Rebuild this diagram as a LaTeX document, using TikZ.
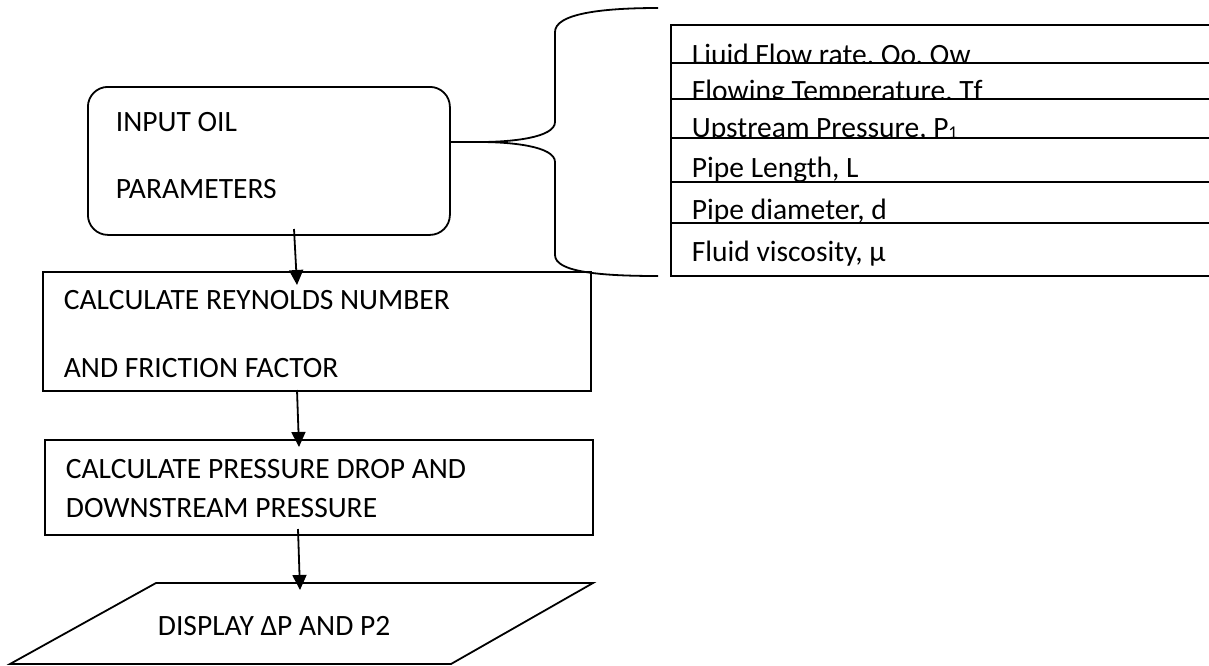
\documentclass[tikz,border=0pt]{standalone}
\usepackage{fontspec}
\setmainfont{Carlito}
\usetikzlibrary{arrows.meta}
\begin{document}
\begin{tikzpicture}[x=1pt,y=-1pt,
  line width=1.8pt,
  every node/.style={inner sep=0pt},
  txt/.style={anchor=base west, font=\fontsize{29.5}{35}\selectfont},
  box/.style={draw, anchor=north west},
  flow/.style={-{Triangle[length=15pt,width=14pt]}},
  row/.style={draw, fill=white}]
\clip (0,0) rectangle (1209,665);
\fill[white] (0,0) rectangle (1209,665);

% input box
\node[box, rounded corners=20pt, minimum width=362pt, minimum height=148pt] (inp) at (87,86) {};
\node[txt] (tin1) at (115,131) {INPUT OIL};
\node[txt] (tin2) at (115,198) {PARAMETERS};

% box 2
\node[box, minimum width=548pt, minimum height=119pt] (rey) at (42,271) {};
\node[txt] (tr1) at (63,309) {CALCULATE REYNOLDS NUMBER};
\node[txt] (tr2) at (63,377) {AND FRICTION FACTOR};

% box 3
\node[box, minimum width=548pt, minimum height=95pt] (pd) at (44,439) {};
\node[txt] (tp1) at (65,478) {CALCULATE PRESSURE DROP AND};
\node[txt] (tp2) at (65,517) {DOWNSTREAM PRESSURE};

% output parallelogram
\coordinate (o1) at (156,583);
\coordinate (o2) at (593,583);
\coordinate (o3) at (451,664);
\coordinate (o4) at (10,664);
\draw[line join=miter] (o1) -- (o2) -- (o3) -- (o4) -- cycle;
\node[txt] (tout) at (157,635) {DISPLAY ΔP AND P2};

% arrows
\coordinate (a1s) at (294,229);
\coordinate (a1e) at (297,285);
\coordinate (a2s) at (297,390);
\coordinate (a2e) at (299,447);
\coordinate (a3s) at (298,529);
\coordinate (a3e) at (300,590);
\draw[flow] (a1s) -- (a1e);
\draw[flow] (a2s) -- (a2e);
\draw[flow] (a3s) -- (a3e);

% table of parameters
\node[row, anchor=north west, minimum width=560pt, minimum height=38pt] (r1) at (670,24) {};
\node[txt] (p1) at (691,64.5) {Liuid Flow rate, Qo, Qw};
\node[row, anchor=north west, minimum width=560pt, minimum height=36pt] (r2) at (670,62) {};
\node[txt] (p2) at (691,100) {Flowing Temperature, Tf};
\node[row, anchor=north west, minimum width=560pt, minimum height=39pt] (r3) at (670,98) {};
\node[txt] (p3) at (691,137.5) {Upstream Pressure, P\raisebox{-1pt}{\fontsize{18}{18}\selectfont 1}};
\node[row, anchor=north west, minimum width=560pt, minimum height=44pt] (r4) at (670,137) {};
\node[txt] (p4) at (691,177) {Pipe Length, L};
\node[row, anchor=north west, minimum width=560pt, minimum height=41pt] (r5) at (670,181) {};
\node[txt] (p5) at (691,219) {Pipe diameter, d};
\node[row, anchor=north west, minimum width=560pt, minimum height=53pt] (r6) at (670,222) {};
\node[txt] (p6) at (691,261) {Fluid viscosity, μ};

% brace connecting input box to table
\coordinate (tip) at (480,142);
\draw (inp.east |- tip) -- (tip);
\draw (658,8) .. controls (600,8) and (555,14) .. (555,32)
      -- (555,122) .. controls (555,138) and (510,142) .. (tip);
\draw (tip) .. controls (510,142) and (555,146) .. (555,162)
      -- (555,255) .. controls (555,272) and (600,276) .. (658,276);
\end{tikzpicture}
\end{document}
